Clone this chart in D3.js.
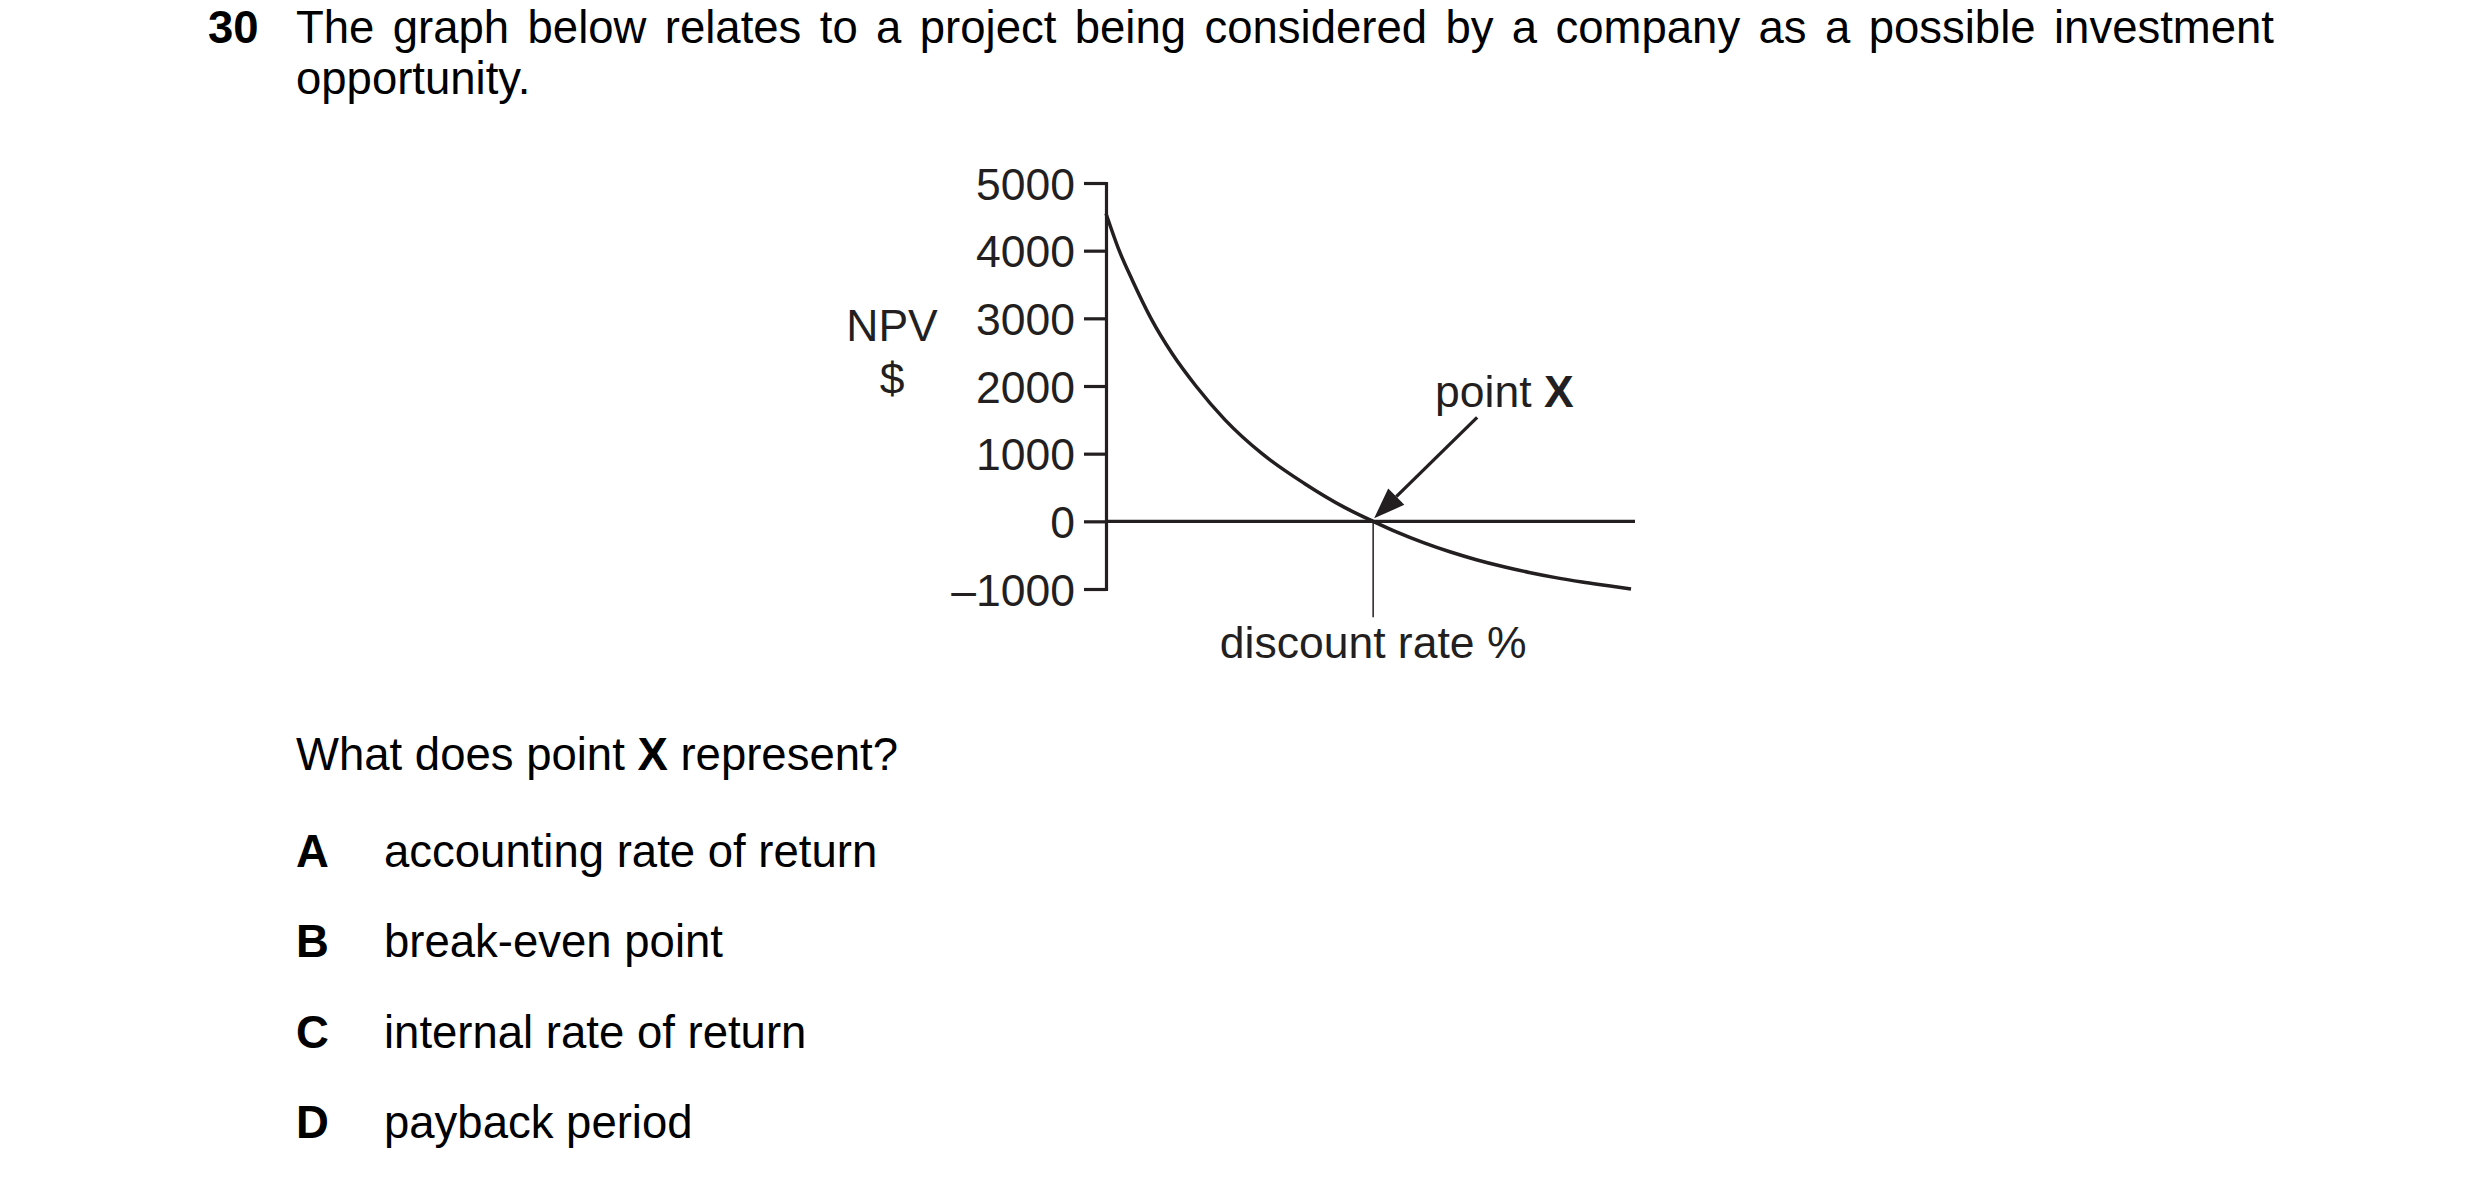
<!DOCTYPE html>
<html>
<head>
<meta charset="utf-8">
<script src="https://cdn.jsdelivr.net/npm/d3@7"></script>
<style>
  html, body { margin: 0; padding: 0; background: #fff; }
  svg { display: block; }
</style>
</head>
<body>
<svg id="chart" width="2480" height="1181"></svg>
<script>
// ---- data ----
const questionNumber = "30";
const questionLines = [
  "The graph below relates to a project being considered by a company as a possible investment",
  "opportunity."
];
const yTickValues = [-1000, 0, 1000, 2000, 3000, 4000, 5000];
const yTickLabels = ["\u20131000", "0", "1000", "2000", "3000", "4000", "5000"];
const discountRates = [0, 0.5, 1.0, 1.7, 2.5, 3.4, 4.5, 5.9, 7.5, 9, 10.1, 11, 12, 13, 14, 15, 16, 17, 18, 19, 19.85];
const npvValues     = [4550, 4000, 3560, 3000, 2480, 2000, 1500, 1000, 560, 210, 0, -160, -315, -450, -567, -668, -756, -832, -896, -952, -1000];
const irrRate = 10.1;
const yLabelLines = ["NPV", "$"];
const xLabel = "discount rate %";
const pointLabel = ["point ", "X"];
const prompt = ["What does point ", "X", " represent?"];
const optionLetters = ["A", "B", "C", "D"];
const optionTexts = ["accounting rate of return", "break-even point", "internal rate of return", "payback period"];

// ---- setup ----
const FONT = "'Liberation Sans', Arial, Helvetica, sans-serif";
const INK = "#231f20";
const svg = d3.select("#chart");
svg.append("rect").attr("width", 2480).attr("height", 1181).attr("fill", "#fff");

// ---- question header ----
svg.append("text").attr("x", 208).attr("y", 43)
  .attr("font-family", FONT).attr("font-size", 45.5).attr("font-weight", "bold")
  .attr("fill", "#000").text(questionNumber);

// justified first line
(function () {
  const left = 296, right = 2274, fs = 45.5;
  const words = questionLines[0].split(" ");
  const g = svg.append("g").attr("font-family", FONT).attr("font-size", fs).attr("fill", "#000");
  const nodes = words.map(w => g.append("text").attr("y", 43).text(w));
  const widths = nodes.map(n => n.node().getComputedTextLength());
  const total = d3.sum(widths);
  const gap = (right - left - total) / (words.length - 1);
  let x = left;
  nodes.forEach((n, i) => { n.attr("x", x); x += widths[i] + gap; });
  g.append("text").attr("x", left).attr("y", 94).text(questionLines[1]);
})();

// ---- chart ----
const x = d3.scaleLinear().domain([0, 20]).range([1106, 1635]);
const y = d3.scaleLinear().domain([-1000, 5000]).range([589, 183]);

const yAxis = d3.axisLeft(y)
  .tickValues(yTickValues)
  .tickFormat((d, i) => yTickLabels[i])
  .tickSize(22).tickSizeOuter(22).tickPadding(9);

const ga = svg.append("g").attr("transform", `translate(${x(0)},0)`).call(yAxis);
ga.select(".domain").attr("stroke", INK).attr("stroke-width", 3.2).attr("fill", "none");
ga.selectAll(".tick line").attr("stroke", INK).attr("stroke-width", 3.2);
ga.selectAll(".tick text").attr("font-family", FONT).attr("font-size", 44.5).attr("fill", INK).attr("dy", "0.36em");

// zero line (x-axis)
svg.append("line")
  .attr("x1", x(0)).attr("x2", x(20)).attr("y1", y(0)).attr("y2", y(0))
  .attr("stroke", INK).attr("stroke-width", 3.2);

// NPV curve
const pts = discountRates.map((r, i) => [r, npvValues[i]]);
svg.append("path").datum(pts)
  .attr("fill", "none").attr("stroke", INK).attr("stroke-width", 3.5)
  .attr("stroke-linecap", "butt")
  .attr("d", d3.line().x(d => x(d[0])).y(d => y(d[1])).curve(d3.curveMonotoneX));

// thin drop line at IRR
svg.append("line")
  .attr("x1", x(irrRate)).attr("x2", x(irrRate))
  .attr("y1", y(0)).attr("y2", y(0) + 96)
  .attr("stroke", INK).attr("stroke-width", 1.5);

// x label
svg.append("text").attr("x", x(irrRate)).attr("y", y(0) + 137)
  .attr("text-anchor", "middle").attr("font-family", FONT).attr("font-size", 44.5)
  .attr("fill", INK).text(xLabel);

// y label
yLabelLines.forEach((t, i) => {
  svg.append("text").attr("x", 892).attr("y", 341 + i * 53)
    .attr("text-anchor", "middle").attr("font-family", FONT).attr("font-size", 44.5)
    .attr("fill", INK).text(t);
});

// point X label
const pl = svg.append("text").attr("x", 1435).attr("y", 407)
  .attr("font-family", FONT).attr("font-size", 44.5).attr("fill", INK);
pl.append("tspan").text(pointLabel[0]);
pl.append("tspan").attr("font-weight", "bold").text(pointLabel[1]);

// arrow
(function () {
  const tipX = x(irrRate) + 1, tipY = y(0) - 3;
  const tailX = tipX + 103, tailY = tipY - 101;
  const ang = Math.atan2(tailY - tipY, tailX - tipX);
  const L = 31, W = 11.5;
  const bx = tipX + L * Math.cos(ang), by = tipY + L * Math.sin(ang);
  svg.append("line").attr("x1", tailX).attr("y1", tailY).attr("x2", bx).attr("y2", by)
    .attr("stroke", INK).attr("stroke-width", 3.3);
  const px = -Math.sin(ang), py = Math.cos(ang);
  svg.append("path")
    .attr("d", `M${tipX},${tipY}L${bx + W * px},${by + W * py}L${bx - W * px},${by - W * py}Z`)
    .attr("fill", INK);
})();

// ---- question and options ----
const pq = svg.append("text").attr("x", 296).attr("y", 770)
  .attr("font-family", FONT).attr("font-size", 45.5).attr("fill", "#000");
pq.append("tspan").text(prompt[0]);
pq.append("tspan").attr("font-weight", "bold").text(prompt[1]);
pq.append("tspan").text(prompt[2]);

optionLetters.forEach((l, i) => {
  const yy = 867 + i * 90.3;
  svg.append("text").attr("x", 296).attr("y", yy)
    .attr("font-family", FONT).attr("font-size", 45.5).attr("font-weight", "bold")
    .attr("fill", "#000").text(l);
  svg.append("text").attr("x", 384).attr("y", yy)
    .attr("font-family", FONT).attr("font-size", 45.5)
    .attr("fill", "#000").text(optionTexts[i]);
});
</script>
</body>
</html>
